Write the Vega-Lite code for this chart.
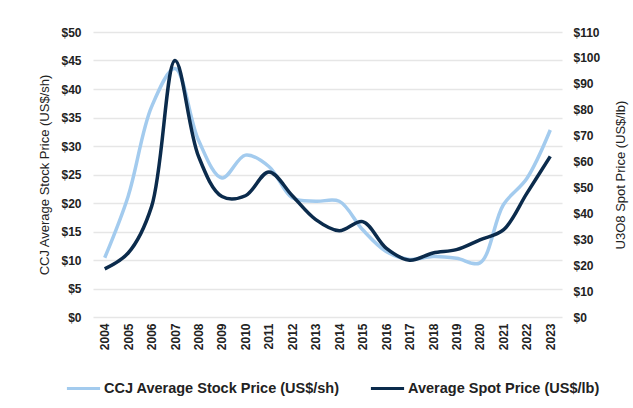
{
  "$schema": "https://vega.github.io/schema/vega-lite/v6.json",
  "width": 469,
  "height": 285,
  "autosize": {"type": "none"},
  "padding": {"left": 93, "top": 32, "right": 71, "bottom": 91},
  "background": "white",
  "config": {
    "view": {"stroke": null},
    "font": "Liberation Sans",
    "axis": {"labelFont": "Liberation Sans", "titleFont": "Liberation Sans", "labelColor": "#222222", "titleColor": "#222222"}
  },
  "data": {
    "values": [
      {"year": "2004", "series": "CCJ Average Stock Price (US$/sh)", "value": 10.4},
      {"year": "2005", "series": "CCJ Average Stock Price (US$/sh)", "value": 21.2},
      {"year": "2006", "series": "CCJ Average Stock Price (US$/sh)", "value": 36.9},
      {"year": "2007", "series": "CCJ Average Stock Price (US$/sh)", "value": 43.6},
      {"year": "2008", "series": "CCJ Average Stock Price (US$/sh)", "value": 31.0},
      {"year": "2009", "series": "CCJ Average Stock Price (US$/sh)", "value": 24.4},
      {"year": "2010", "series": "CCJ Average Stock Price (US$/sh)", "value": 28.4},
      {"year": "2011", "series": "CCJ Average Stock Price (US$/sh)", "value": 26.4},
      {"year": "2012", "series": "CCJ Average Stock Price (US$/sh)", "value": 20.9},
      {"year": "2013", "series": "CCJ Average Stock Price (US$/sh)", "value": 20.3},
      {"year": "2014", "series": "CCJ Average Stock Price (US$/sh)", "value": 20.3},
      {"year": "2015", "series": "CCJ Average Stock Price (US$/sh)", "value": 15.3},
      {"year": "2016", "series": "CCJ Average Stock Price (US$/sh)", "value": 11.5},
      {"year": "2017", "series": "CCJ Average Stock Price (US$/sh)", "value": 10.1},
      {"year": "2018", "series": "CCJ Average Stock Price (US$/sh)", "value": 10.6},
      {"year": "2019", "series": "CCJ Average Stock Price (US$/sh)", "value": 10.3},
      {"year": "2020", "series": "CCJ Average Stock Price (US$/sh)", "value": 9.5},
      {"year": "2021", "series": "CCJ Average Stock Price (US$/sh)", "value": 19.7},
      {"year": "2022", "series": "CCJ Average Stock Price (US$/sh)", "value": 24.3},
      {"year": "2023", "series": "CCJ Average Stock Price (US$/sh)", "value": 32.8},
      {"year": "2004", "series": "Average Spot Price (US$/lb)", "value": 18.6},
      {"year": "2005", "series": "Average Spot Price (US$/lb)", "value": 24.7},
      {"year": "2006", "series": "Average Spot Price (US$/lb)", "value": 42.7},
      {"year": "2007", "series": "Average Spot Price (US$/lb)", "value": 99.0},
      {"year": "2008", "series": "Average Spot Price (US$/lb)", "value": 62.0},
      {"year": "2009", "series": "Average Spot Price (US$/lb)", "value": 46.5},
      {"year": "2010", "series": "Average Spot Price (US$/lb)", "value": 46.8},
      {"year": "2011", "series": "Average Spot Price (US$/lb)", "value": 56.0},
      {"year": "2012", "series": "Average Spot Price (US$/lb)", "value": 46.8},
      {"year": "2013", "series": "Average Spot Price (US$/lb)", "value": 37.6},
      {"year": "2014", "series": "Average Spot Price (US$/lb)", "value": 33.3},
      {"year": "2015", "series": "Average Spot Price (US$/lb)", "value": 36.8},
      {"year": "2016", "series": "Average Spot Price (US$/lb)", "value": 26.6},
      {"year": "2017", "series": "Average Spot Price (US$/lb)", "value": 21.9},
      {"year": "2018", "series": "Average Spot Price (US$/lb)", "value": 24.7},
      {"year": "2019", "series": "Average Spot Price (US$/lb)", "value": 26.0},
      {"year": "2020", "series": "Average Spot Price (US$/lb)", "value": 29.8},
      {"year": "2021", "series": "Average Spot Price (US$/lb)", "value": 33.6},
      {"year": "2022", "series": "Average Spot Price (US$/lb)", "value": 47.7},
      {"year": "2023", "series": "Average Spot Price (US$/lb)", "value": 62.0}
    ]
  },
  "encoding": {
    "x": {
      "field": "year",
      "type": "ordinal",
      "scale": {"type": "point", "padding": 0.5},
      "axis": {
        "title": null,
        "labelAngle": -90,
        "labelFontWeight": "bold",
        "labelFontSize": 12,
        "labelPadding": 6,
        "ticks": false,
        "domain": false,
        "grid": false
      }
    },
    "color": {
      "field": "series",
      "type": "nominal",
      "scale": {
        "domain": ["CCJ Average Stock Price (US$/sh)", "Average Spot Price (US$/lb)"],
        "range": ["#a3cbee", "#0b2b4c"]
      },
      "legend": {
        "title": null,
        "orient": "none",
        "legendX": -28,
        "legendY": 338,
        "direction": "horizontal",
        "symbolType": "stroke",
        "symbolStrokeWidth": 3,
        "symbolSize": 1100,
        "labelFontSize": 14.5,
        "labelFontWeight": "bold",
        "labelColor": "#222222",
        "labelLimit": 400,
        "columnPadding": 24,
        "labelOffset": 2
      }
    }
  },
  "layer": [
    {
      "transform": [{"filter": "datum.series === 'CCJ Average Stock Price (US$/sh)'"}],
      "mark": {"type": "line", "interpolate": "catmull-rom", "strokeWidth": 3.5},
      "encoding": {
        "y": {
          "field": "value",
          "type": "quantitative",
          "scale": {"domain": [0, 50]},
          "axis": {
            "orient": "left",
            "title": "CCJ Average Stock Price (US$/sh)",
            "titleFontSize": 13,
            "titleFontWeight": "normal",
            "titlePadding": 9,
            "format": "$,.0f",
            "values": [0, 5, 10, 15, 20, 25, 30, 35, 40, 45, 50],
            "labelFontWeight": "bold",
            "labelFontSize": 12,
            "labelPadding": 12,
            "ticks": false,
            "domain": false,
            "grid": true,
            "gridColor": "#e6e6e6",
            "gridWidth": 1.5
          }
        }
      }
    },
    {
      "transform": [{"filter": "datum.series === 'Average Spot Price (US$/lb)'"}],
      "mark": {"type": "line", "interpolate": "catmull-rom", "strokeWidth": 3.5},
      "encoding": {
        "y": {
          "field": "value",
          "type": "quantitative",
          "scale": {"domain": [0, 110]},
          "axis": {
            "orient": "right",
            "title": "U3O8 Spot Price (US$/lb)",
            "titleAngle": 270,
            "titleFontSize": 13,
            "titleFontWeight": "normal",
            "titlePadding": 28,
            "format": "$,.0f",
            "values": [0, 10, 20, 30, 40, 50, 60, 70, 80, 90, 100, 110],
            "labelFontWeight": "bold",
            "labelFontSize": 12,
            "labelPadding": 11,
            "ticks": false,
            "domain": false,
            "grid": false
          }
        }
      }
    }
  ],
  "resolve": {"scale": {"y": "independent"}}
}
